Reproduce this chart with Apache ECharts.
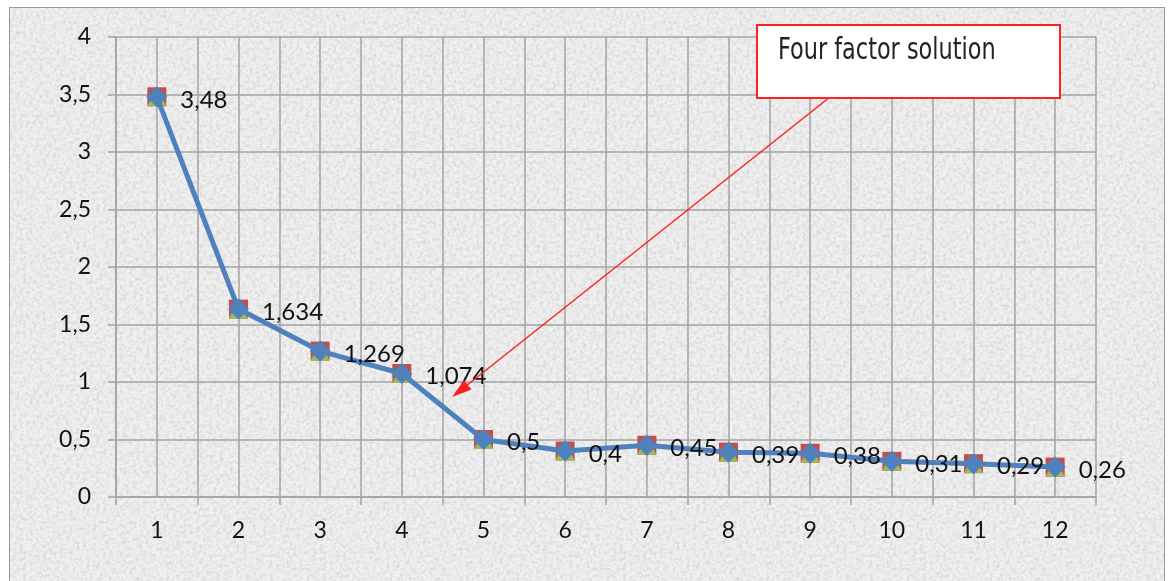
<!DOCTYPE html>
<html>
<head>
<meta charset="utf-8">
<script src="https://cdn.jsdelivr.net/npm/echarts@6/dist/echarts.min.js"></script>
<style>
  html, body { margin: 0; padding: 0; background: #ffffff; }
  #frame {
    position: absolute; left: 9px; top: 7px; width: 1156px; height: 580px;
    border: 1.5px solid #9a9a9a; box-sizing: border-box;
    background-color: #f0f0f0;
    background-image: url("data:image/svg+xml;utf8,<svg xmlns='http://www.w3.org/2000/svg' width='300' height='300'><filter id='n'><feTurbulence type='fractalNoise' baseFrequency='0.3' numOctaves='3' stitchTiles='stitch'/><feColorMatrix type='matrix' values='0 0 0 0 0.6  0 0 0 0 0.6  0 0 0 0 0.6  0 0 0 1.5 -0.6'/></filter><rect width='300' height='300' filter='url(%23n)'/></svg>");
  }
  #chart { position: absolute; left: 0; top: 0; width: 1170px; height: 581px; }
</style>
</head>
<body>
<div id="frame"></div>
<div id="chart"></div>
<script>
const categories = ['1','2','3','4','5','6','7','8','9','10','11','12'];
const eigenvalues = [3.48, 1.634, 1.269, 1.074, 0.5, 0.4, 0.45, 0.39, 0.38, 0.31, 0.29, 0.26];
const yTicks = { min: 0, max: 4, interval: 0.5 };
const annotationText = 'Four factor solution';

const chart = echarts.init(document.getElementById('chart'), null, { renderer: 'canvas' });
const gridColor = '#a3a3a3';
const fontFam = 'Lato, "Open Sans", sans-serif';
const comma = v => String(v).replace('.', ',');

chart.setOption({
  animation: false,
  backgroundColor: 'transparent',
  grid: { left: 116, right: 74, top: 37, bottom: 84, containLabel: false },
  xAxis: [
    {
      type: 'category', data: categories, boundaryGap: true,
      axisLine: { show: true, lineStyle: { color: gridColor, width: 1.5 } },
      axisTick: { show: true, length: 8, inside: false, lineStyle: { color: gridColor, width: 1.5 } },
      axisLabel: { color: '#111', fontSize: 23, fontFamily: fontFam, margin: 22 },
      splitLine: { show: false }
    },
    {
      type: 'value', min: 0, max: 24, interval: 1, position: 'bottom',
      axisLine: { show: false }, axisTick: { show: false }, axisLabel: { show: false },
      splitLine: { show: true, lineStyle: { color: gridColor, width: 1.5 } }
    }
  ],
  yAxis: {
    type: 'value', min: yTicks.min, max: yTicks.max, interval: yTicks.interval,
    axisLine: { show: true, lineStyle: { color: gridColor, width: 1.5 } },
    axisTick: { show: true, length: 8, lineStyle: { color: gridColor, width: 1.5 } },
    axisLabel: { color: '#111', fontSize: 23, fontFamily: fontFam, margin: 25, formatter: v => comma(v) },
    splitLine: { show: true, lineStyle: { color: gridColor, width: 1.5 } }
  },
  series: [
    {
      type: 'line', data: eigenvalues, symbol: 'rect', symbolSize: 19,
      itemStyle: { color: '#c0504d' }, lineStyle: { width: 0, opacity: 0 }, z: 2
    },
    {
      type: 'line', data: eigenvalues, symbol: 'triangle', symbolSize: 19,
      itemStyle: { color: '#9bbb59' }, lineStyle: { width: 0, opacity: 0 }, z: 3
    },
    {
      type: 'line', data: eigenvalues, symbol: 'diamond', symbolSize: 21,
      itemStyle: { color: '#4f81bd' }, lineStyle: { width: 5, color: '#4f81bd' }, z: 4,
      label: {
        show: true, position: 'right', distance: 13, color: '#111',
        fontSize: 24, fontFamily: fontFam, offset: [0, 3],
        formatter: p => comma(p.value)
      }
    }
  ],
  graphic: [
    {
      type: 'line', z: 10,
      shape: { x1: 830, y1: 97, x2: 466, y2: 386 },
      style: { stroke: '#ff2020', lineWidth: 1.5 }
    },
    {
      type: 'polygon', z: 10,
      shape: { points: [[452, 397], [471.5, 389.5], [464, 380]] },
      style: { fill: '#ff2020' }
    },
    {
      type: 'rect', z: 11,
      shape: { x: 757, y: 25, width: 303, height: 73 },
      style: { fill: '#ffffff', stroke: '#ff2020', lineWidth: 2 }
    },
    {
      type: 'text', z: 12, x: 778, y: 36, scaleX: 0.83,
      style: { text: annotationText, fill: '#222', font: '30px "DejaVu Sans Condensed", "Liberation Sans Narrow", sans-serif' }
    }
  ]
});
</script>
</body>
</html>
